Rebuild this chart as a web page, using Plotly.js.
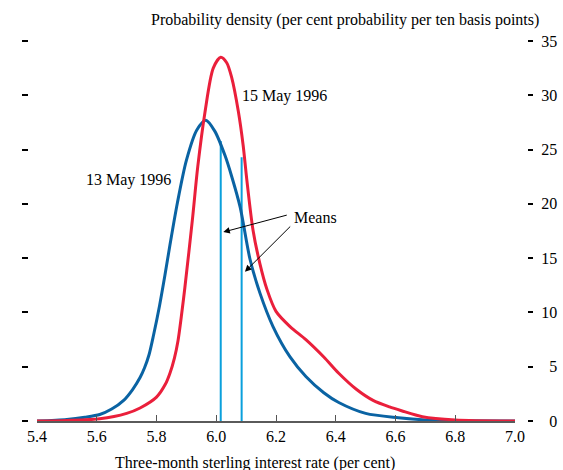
<!DOCTYPE html>
<html>
<head>
<meta charset="utf-8">
<script src="https://cdn.plot.ly/plotly-3.0.1.min.js"></script>
<style>
  html, body { margin: 0; padding: 0; background: #ffffff; }
  #chart { width: 563px; height: 470px; }
</style>
</head>
<body>
<div id="chart"></div>
<script>
// Three-month sterling interest rate (per cent)
const rate13 = [5.40, 5.50, 5.56, 5.61, 5.65, 5.69, 5.72, 5.745, 5.76, 5.775, 5.79, 5.81, 5.828, 5.845, 5.87, 5.90, 5.935, 5.965, 5.995, 6.03, 6.052, 6.08, 6.113, 6.146, 6.19, 6.247, 6.30, 6.36, 6.41, 6.50, 6.61, 6.70, 6.80, 7.00];
// Probability density, 13 May 1996
const density13 = [0.0, 0.15, 0.35, 0.6, 1.1, 1.9, 2.9, 4.0, 4.9, 6.1, 7.9, 10.6, 13.4, 16.2, 20.1, 24.0, 26.8, 27.7, 26.7, 24.4, 22.5, 19.7, 14.9, 11.8, 8.7, 5.9, 4.1, 2.6, 1.7, 0.7, 0.3, 0.1, 0.03, 0.0];

const rate15 = [5.40, 5.50, 5.61, 5.70, 5.745, 5.80, 5.83, 5.845, 5.86, 5.872, 5.883, 5.895, 5.92, 5.938, 5.962, 5.99, 6.015, 6.035, 6.052, 6.074, 6.09, 6.102, 6.123, 6.146, 6.17, 6.20, 6.247, 6.30, 6.36, 6.41, 6.47, 6.525, 6.58, 6.62, 6.69, 6.80, 7.00];
// Probability density, 15 May 1996
const density15 = [0.0, 0.05, 0.2, 0.7, 1.2, 2.2, 3.4, 4.4, 5.8, 7.4, 9.6, 12.3, 18.5, 23.4, 28.4, 32.5, 33.5, 33.0, 31.6, 28.5, 25.4, 22.3, 17.6, 14.5, 12.1, 10.1, 8.7, 7.5, 5.9, 4.4, 2.9, 1.9, 1.3, 0.95, 0.4, 0.1, 0.0];

// Means of the two distributions and the density where each mean line stops
const meanRates = [6.015, 6.085];
const meanHeights = [25.8, 24.3];

const xTickVals = [5.4, 5.6, 5.8, 6.0, 6.2, 6.4, 6.6, 6.8, 7.0];
const xTickText = ['5.4', '5.6', '5.8', '6.0', '6.2', '6.4', '6.6', '6.8', '7.0'];
const yTickVals = [0, 5, 10, 15, 20, 25, 30, 35];
const yTickText = ['\u20070', '\u20075', '10', '15', '20', '25', '30', '35'];

const FONT = 'Liberation Serif, Times New Roman, serif';
const FS = 16;
const BLUE = '#0a63a3';
const RED = '#ea1f3b';
const CYAN = '#0aa0dc';

const traces = [];
meanRates.forEach(function (m, i) {
  traces.push({
    x: [m, m], y: [0, meanHeights[i]],
    type: 'scatter', mode: 'lines',
    line: { color: CYAN, width: 2 },
    hoverinfo: 'skip', showlegend: false
  });
});
traces.push({
  x: rate13, y: density13, type: 'scatter', mode: 'lines',
  line: { color: BLUE, width: 3, shape: 'spline', smoothing: 0.8 },
  showlegend: false
});
traces.push({
  x: rate15, y: density15, type: 'scatter', mode: 'lines',
  line: { color: RED, width: 3, shape: 'spline', smoothing: 0.8 },
  showlegend: false
});

const arrowStyle = {
  showarrow: true, arrowhead: 2, arrowsize: 1.3, arrowwidth: 1, arrowcolor: '#000',
  axref: 'x', ayref: 'y', xref: 'x', yref: 'y', text: ''
};

const textFont = { family: FONT, size: FS, color: '#000' };

const layout = {
  width: 563, height: 470,
  margin: { l: 28, r: 36, t: 41, b: 49 },
  paper_bgcolor: '#ffffff', plot_bgcolor: '#ffffff',
  font: textFont,
  showlegend: false,
  xaxis: {
    domain: [9 / 499, 487 / 499],
    range: [5.4, 7.0],
    anchor: 'y',
    tickvals: xTickVals, ticktext: xTickText,
    ticks: 'inside', ticklen: 6, tickwidth: 1, tickcolor: '#555',
    showline: true, linecolor: '#5a5a5a', linewidth: 2,
    showgrid: false, zeroline: false,
    tickfont: textFont
  },
  yaxis: {
    range: [0, 35],
    anchor: 'free', position: 0,
    tickvals: yTickVals,
    ticks: 'outside', ticklen: 6, tickwidth: 2, tickcolor: '#000',
    showticklabels: false, showline: false, showgrid: false, zeroline: false
  },
  yaxis2: {
    range: [0, 35],
    overlaying: 'y', side: 'right', anchor: 'free', position: 1,
    tickvals: yTickVals, ticktext: yTickText,
    ticks: 'outside', ticklen: 5, tickwidth: 2, tickcolor: '#000',
    ticklabelstandoff: 5,
    showline: false, showgrid: false, zeroline: false,
    tickfont: textFont
  },
  annotations: [
    {
      text: 'Probability density (per cent probability per ten basis points)',
      xref: 'paper', yref: 'paper', x: 1.028, y: 1.055,
      xanchor: 'right', yanchor: 'middle', showarrow: false, font: textFont
    },
    {
      text: 'Three-month sterling interest rate (per cent)',
      xref: 'paper', yref: 'paper', x: 0.455, y: -0.11,
      xanchor: 'center', yanchor: 'middle', showarrow: false, font: textFont
    },
    {
      text: '15 May 1996', xref: 'x', yref: 'y', x: 6.0795, y: 29.9,
      xanchor: 'left', yanchor: 'middle', showarrow: false, font: textFont
    },
    {
      text: '13 May 1996', xref: 'x', yref: 'y', x: 5.855, y: 22.2,
      xanchor: 'right', yanchor: 'middle', showarrow: false, font: textFont
    },
    {
      text: 'Means', xref: 'x', yref: 'y', x: 6.254, y: 18.7,
      xanchor: 'left', yanchor: 'middle', showarrow: false, font: textFont
    },
    Object.assign({}, arrowStyle, { x: 6.0236, y: 17.4, ax: 6.241, ay: 19.0 }),
    Object.assign({}, arrowStyle, { x: 6.096, y: 13.75, ax: 6.2526, ay: 18.05 })
  ]
};

// attach the right-hand axis by giving it an invisible carrier trace
traces.push({ x: [5.4], y: [0], yaxis: 'y2', type: 'scatter', mode: 'markers',
  marker: { opacity: 0 }, hoverinfo: 'skip', showlegend: false });

Plotly.newPlot('chart', traces, layout, { staticPlot: true, displayModeBar: false });
</script>
</body>
</html>
